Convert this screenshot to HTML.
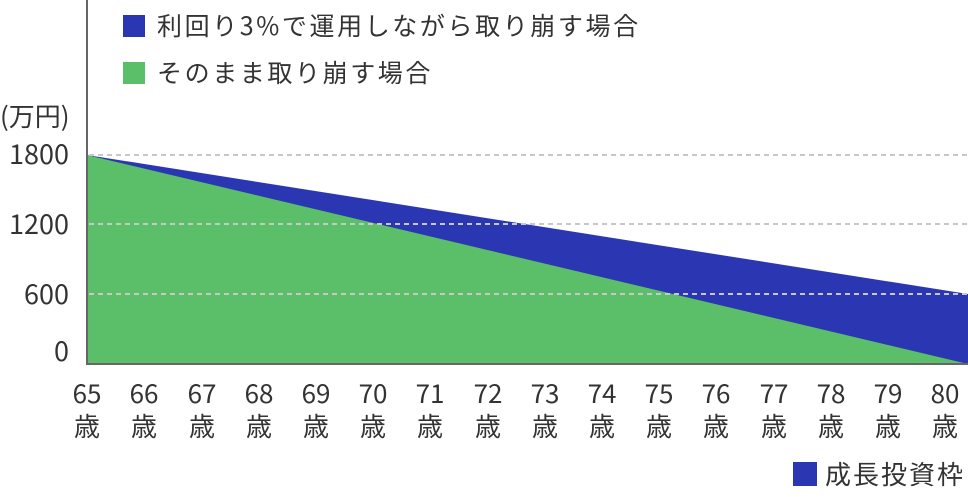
<!DOCTYPE html>
<html><head><meta charset="utf-8"><style>
body{margin:0;background:#fff;width:968px;height:492px;overflow:hidden}
svg text{font-family:"Noto Sans CJK JP","Liberation Sans",sans-serif;fill:#333}
</style></head><body>
<svg width="968" height="492" viewBox="0 0 968 492">
<rect x="123" y="15" width="22" height="22" fill="#2b36b3"/>
<text x="157" y="35" font-size="25" letter-spacing="2.6">利回り3%で運用しながら取り崩す場合</text>
<rect x="123" y="62" width="22" height="22" fill="#5bbf6a"/>
<text x="157" y="82" font-size="25" letter-spacing="2.6">そのまま取り崩す場合</text>
<text x="0" y="126" font-size="26">(万円)</text>
<g font-size="27" text-anchor="end">
<text x="69" y="164">1800</text><text x="69" y="234">1200</text><text x="69" y="304">600</text><text x="69" y="361">0</text>
</g>
<polygon points="87,155 968,294 968,364 87,364" fill="#2b36b3"/>
<polygon points="87,155 968,364 87,364" fill="#5bbf6a"/>
<g stroke="#c8c8c8" stroke-width="2" stroke-dasharray="5,4">
<line x1="89" y1="155" x2="968" y2="155"/><line x1="89" y1="224" x2="968" y2="224"/><line x1="89" y1="294" x2="968" y2="294"/>
</g>
<line x1="87" y1="0" x2="87" y2="365" stroke="#666" stroke-width="2"/>
<line x1="86" y1="364" x2="968" y2="364" stroke="#666" stroke-width="2"/>
<g font-size="26" text-anchor="middle">
<text x="87" y="403">65</text><text x="87" y="436">歳</text>
<text x="144" y="403">66</text><text x="144" y="436">歳</text>
<text x="202" y="403">67</text><text x="202" y="436">歳</text>
<text x="259" y="403">68</text><text x="259" y="436">歳</text>
<text x="316" y="403">69</text><text x="316" y="436">歳</text>
<text x="373" y="403">70</text><text x="373" y="436">歳</text>
<text x="430" y="403">71</text><text x="430" y="436">歳</text>
<text x="488" y="403">72</text><text x="488" y="436">歳</text>
<text x="545" y="403">73</text><text x="545" y="436">歳</text>
<text x="602" y="403">74</text><text x="602" y="436">歳</text>
<text x="659" y="403">75</text><text x="659" y="436">歳</text>
<text x="716" y="403">76</text><text x="716" y="436">歳</text>
<text x="774" y="403">77</text><text x="774" y="436">歳</text>
<text x="831" y="403">78</text><text x="831" y="436">歳</text>
<text x="888" y="403">79</text><text x="888" y="436">歳</text>
<text x="945" y="403">80</text><text x="945" y="436">歳</text>
</g>
<rect x="793" y="462" width="24" height="24" fill="#2b36b3"/>
<text x="825" y="484" font-size="26" letter-spacing="2">成長投資枠</text>
</svg>
</body></html>
